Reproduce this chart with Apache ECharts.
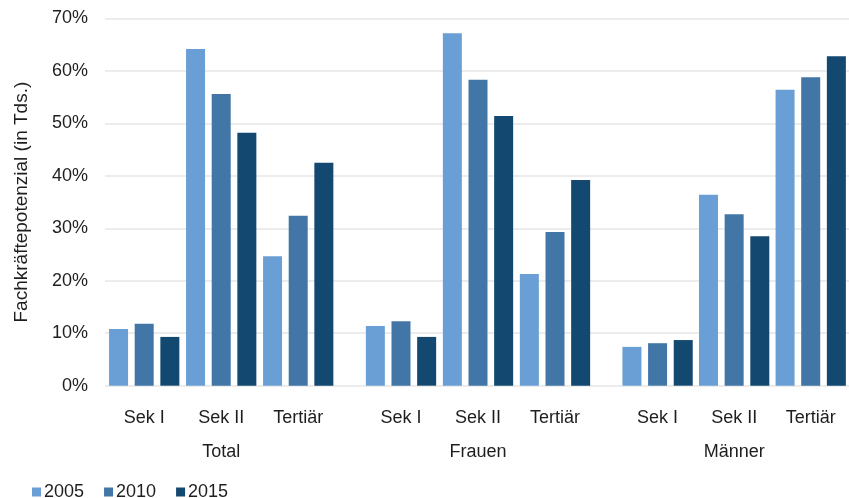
<!DOCTYPE html>
<html>
<head>
<meta charset="utf-8">
<script src="https://cdn.jsdelivr.net/npm/echarts@6/dist/echarts.min.js"></script>
<style>
  html, body { margin: 0; padding: 0; background: #ffffff; }
  #chart { width: 849px; height: 498px; }
</style>
</head>
<body>
<div id="chart"></div>
<script>
// Education levels shown inside each group
var categories = ['Sek I', 'Sek II', 'Tertiär'];
// Population groups along the x axis
var groups = ['Total', 'Frauen', 'Männer'];
// Survey years (one bar colour each)
var years = ['2005', '2010', '2015'];
var yearColors = ['#6a9fd5', '#4276a6', '#134970'];

// Share in percent, per group, one array per year (Sek I, Sek II, Tertiär)
var total2005 = [10.8, 64.2, 24.7];
var total2010 = [11.8, 55.6, 32.4];
var total2015 = [9.3, 48.2, 42.5];

var frauen2005 = [11.4, 67.2, 21.3];
var frauen2010 = [12.3, 58.3, 29.3];
var frauen2015 = [9.3, 51.4, 39.2];

var maenner2005 = [7.4, 36.4, 56.4];
var maenner2010 = [8.1, 32.7, 58.8];
var maenner2015 = [8.7, 28.5, 62.8];

var groupValues = [
  [total2005, total2010, total2015],
  [frauen2005, frauen2010, frauen2015],
  [maenner2005, maenner2010, maenner2015]
];

// Value axis
var yMin = 0, yMax = 70, yStep = 10;
var yTitle = 'Fachkräftepotenzial (in Tds.)';

var FONT = '"Liberation Sans", Arial, sans-serif';
var TEXT = '#1e1e1e';
var GRID_TOP = 18.5, GRID_BOTTOM = 112.3;
var groupLefts = [105.7, 362.5, 619.3];
var groupWidth = 231;

// Background grid carries the value axis and the horizontal gridlines
var grids = [{ left: 105, right: 0, top: GRID_TOP, bottom: GRID_BOTTOM }];
var xAxes = [{ gridIndex: 0, type: 'category', data: [''], show: false }];
var yAxes = [{
  gridIndex: 0, type: 'value', min: yMin, max: yMax, interval: yStep,
  name: yTitle, nameLocation: 'middle', nameGap: 74, nameRotate: 90,
  nameTextStyle: { fontFamily: FONT, fontSize: 19, color: TEXT },
  axisLine: { show: false }, axisTick: { show: false },
  axisLabel: { formatter: '{value}%', fontFamily: FONT, fontSize: 18, color: TEXT, margin: 17 },
  splitLine: { lineStyle: { color: '#e6e6e6', width: 1.5 } }
}];
var series = [];

// One grid per population group, each with its own category axis
groups.forEach(function (g, gi) {
  var idx = gi + 1;
  grids.push({ left: groupLefts[gi], width: groupWidth, top: GRID_TOP, bottom: GRID_BOTTOM });
  xAxes.push({
    gridIndex: idx, type: 'category', data: categories,
    axisLine: { show: false }, axisTick: { show: false },
    axisLabel: { fontFamily: FONT, fontSize: 18, color: TEXT, margin: 23 },
    name: g, nameLocation: 'middle', nameGap: 57,
    nameTextStyle: { fontFamily: FONT, fontSize: 18, color: TEXT }
  });
  yAxes.push({ gridIndex: idx, type: 'value', min: yMin, max: yMax, interval: yStep, show: false, splitLine: { show: false } });
  years.forEach(function (y, yi) {
    series.push({
      type: 'bar', name: y, xAxisIndex: idx, yAxisIndex: idx,
      data: groupValues[gi][yi],
      barWidth: 19, barGap: '35%',
      itemStyle: { color: yearColors[yi] }
    });
  });
});

var chart = echarts.init(document.getElementById('chart'), null, { renderer: 'canvas' });
chart.setOption({
  animation: false,
  backgroundColor: '#ffffff',
  grid: grids,
  xAxis: xAxes,
  yAxis: yAxes,
  legend: {
    data: years, left: 27, top: 478, icon: 'rect',
    itemWidth: 9, itemHeight: 9, itemGap: 20,
    textStyle: { fontFamily: FONT, fontSize: 18, color: TEXT, padding: [0, 0, 0, -2] }
  },
  series: series
});
</script>
</body>
</html>
